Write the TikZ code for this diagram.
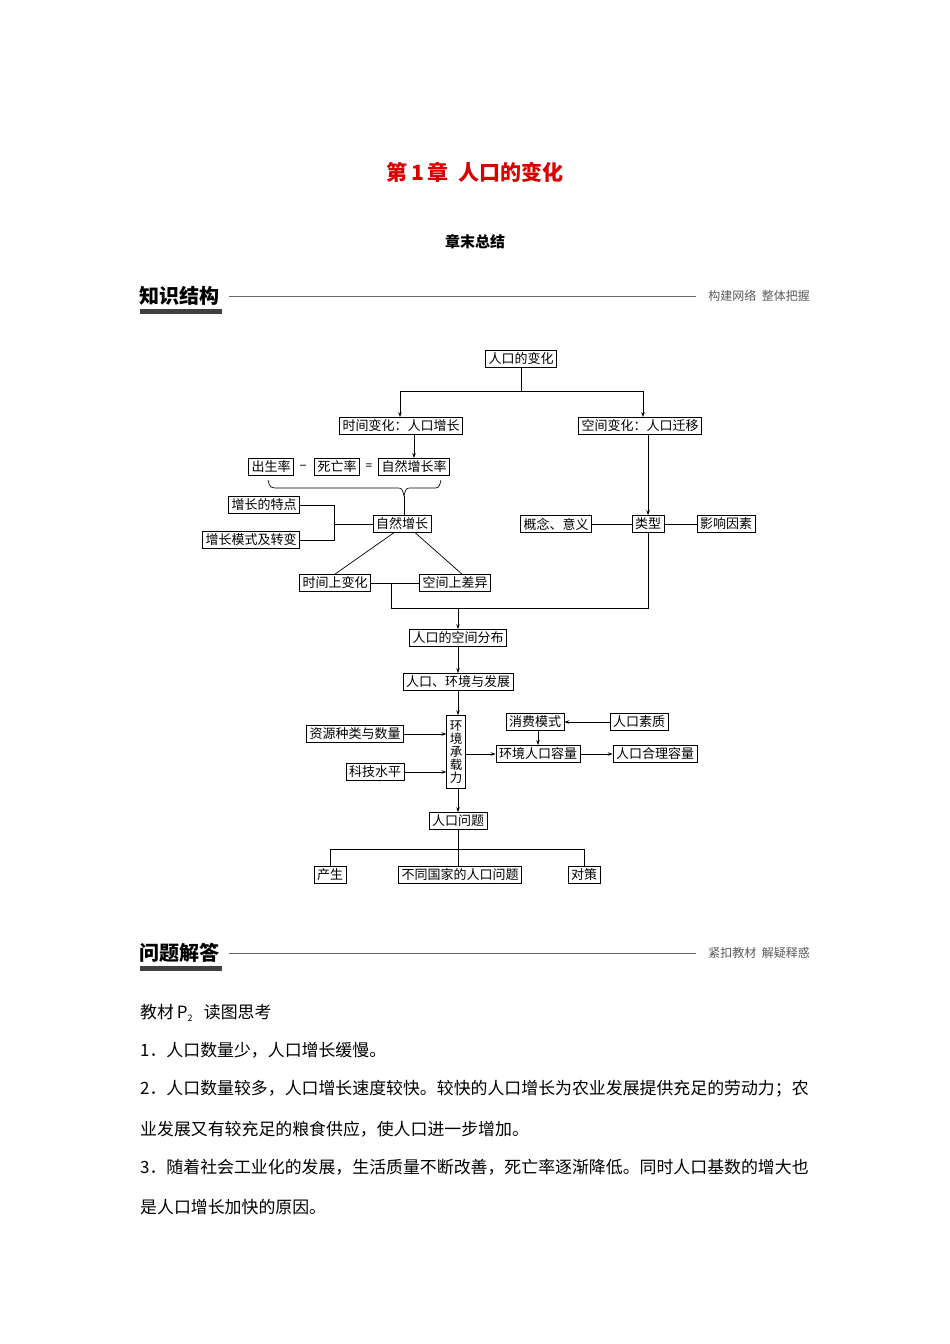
\documentclass[tikz,border=0pt]{standalone}
\usepackage{fontspec}
\setmainfont{Liberation Serif}
\newfontfamily\cjk{Noto Sans CJK SC}
\usetikzlibrary{arrows.meta}
\begin{document}
\begin{tikzpicture}[x=1pt,y=-1pt,
  bx/.style={draw,line width=0.7pt,inner xsep=3pt,inner ysep=2.5pt,font=\cjk\fontsize{13}{14}\selectfont},
  ln/.style={line width=0.7pt},
  ar/.style={line width=0.7pt,-{Stealth[length=5pt,width=3.5pt]}},
  body/.style={anchor=west,font=\cjk\fontsize{16.9}{18}\selectfont},
  sect/.style={font=\cjk\bfseries\fontsize{20}{22}\selectfont,anchor=west},
  side/.style={font=\cjk\fontsize{12}{13}\selectfont,text=black!65,anchor=east}]
\useasboundingbox (0,0) rectangle (950,1344);
\node[font=\cjk\bfseries\fontsize{21}{23}\selectfont,text=red!85!black] (title) at (475,172) {第\,1\,章\ \ 人口的变化};
\node[font=\cjk\bfseries\fontsize{15}{16}\selectfont] (sub) at (475,242) {章末总结};
% section 1
\node[sect,inner sep=0] (s1) at (139,296) {知识结构};
\fill[black!75] (140,309) rectangle (222,314);
\node[side,inner sep=0] (s1r) at (810,296) {构建网络\ \ 整体把握};
\draw[black!60,line width=0.5pt] (229,296) -- (696,296);
% diagram
\node[bx] (top) at (521,359) {人口的变化};
\node[bx] (tv) at (401,426) {时间变化：人口增长};
\node[bx] (sv) at (640,426) {空间变化：人口迁移};
\coordinate (jl) at (400,391);
\coordinate (jr) at (643,391);
\draw[ln] (top.south) -- (top.south |- jl);
\draw[ln] (jl) -- (jr);
\draw[ar] (jl) -- (jl |- tv.north);
\draw[ar] (jr) -- (jr |- sv.north);
\node[bx] (csl) at (271,467) {出生率};
\node[font=\bfseries\large] (minus) at (303,467) {–};
\node[bx] (swl) at (337,467) {死亡率};
\node[font=\bfseries\large] (eq) at (369,467) {=};
\node[bx] (zrl) at (414,467) {自然增长率};
\draw[ar] (zrl.north |- tv.south) -- (zrl.north);
\coordinate (bt0) at (404,496);
\draw[ln] (268,480) .. controls (270,488) .. (280,488) -- (396,488) .. controls (402,488) .. (bt0)
  .. controls (406,488) .. (412,488) -- (432,488) .. controls (439,488) .. (441,480);
\node[bx] (zr) at (402,524) {自然增长};
\draw[ln] (bt0) -- (bt0 |- zr.north);
\node[bx] (td) at (264,505) {增长的特点};
\node[bx] (ms) at (251,540) {增长模式及转变};
\coordinate (bk) at (334,524);
\draw[ln] (td.east) -- (bk |- td.east) -- (bk |- ms.east) -- (ms.east);
\draw[ln] (bk) -- (zr.west);
\node[bx] (sj) at (335,583) {时间上变化};
\node[bx] (kj) at (455,583) {空间上差异};
\draw[ln] (zr.south west) ++(21,0) -- (sj.north);
\draw[ln] (zr.south east) ++(-16,0) -- ([xshift=7pt]kj.north);
\draw[ln] (sj.east) -- (kj.west);
\node[bx] (gn) at (556,524) {概念、意义};
\node[bx] (lx) at (648,524) {类型};
\node[bx] (yx) at (726,524) {影响因素};
\draw[ar] (lx.north |- sv.south) -- (lx.north);
\draw[ln] (gn.east) -- (lx.west);
\draw[ln] (lx.east) -- (yx.west);
\node[bx] (fb) at (458,638) {人口的空间分布};
\coordinate (m1) at (391,583);
\coordinate (m2) at (391,608);
\draw[ln] (m1) -- (m2) -- (m2 -| lx.south) -- (lx.south);
\draw[ar] (m2 -| fb.north) -- (fb.north);
\node[bx] (hj) at (458,682) {人口、环境与发展};
\draw[ar] (fb.south) -- (hj.north);
\node[bx,inner xsep=3pt,align=center,font=\cjk\fontsize{12.5}{13}\selectfont,minimum height=73pt] (cz) at (456,752) {环\\境\\承\\载\\力};
\draw[ar] (hj.south) -- (hj.south |- cz.north);
\node[bx] (zy) at (355,734) {资源种类与数量};
\node[bx] (kx) at (375,772) {科技水平};
\draw[ar] (zy.east) -- (zy.east -| cz.west);
\draw[ar] (kx.east) -- (kx.east -| cz.west);
\node[bx] (xf) at (535,722) {消费模式};
\node[bx] (sz) at (639,722) {人口素质};
\draw[ar] (sz.west) -- (xf.east);
\node[bx] (rk) at (538,754) {环境人口容量};
\node[bx] (hl) at (655,754) {人口合理容量};
\draw[ar] (rk.north |- xf.south) -- (rk.north);
\draw[ar] (cz.east |- rk.west) -- (rk.west);
\draw[ar] (rk.east) -- (hl.west);
\node[bx] (wt) at (458,821) {人口问题};
\draw[ar] (wt.north |- cz.south) -- (wt.north);
\node[bx] (cs) at (330,875) {产生};
\node[bx] (bt) at (460,875) {不同国家的人口问题};
\node[bx] (dc) at (584,875) {对策};
\coordinate (h) at (458,849);
\draw[ln] (wt.south) -- (wt.south |- bt.north);
\draw[ln] (cs.north) -- (cs.north |- h) -- (dc.north |- h) -- (dc.north);
% section 2
\node[sect,inner sep=0] (s2) at (139,953) {问题解答};
\fill[black!75] (140,966) rectangle (222,971);
\node[side,inner sep=0] (s2r) at (810,953) {紧扣教材\ \ 解疑释惑};
\draw[black!60,line width=0.5pt] (229,953) -- (696,953);
\node[body,inner sep=0] (p0) at (140,1013) {教材\,P\raisebox{-0.3ex}{\fontsize{9}{10}\selectfont 2}\ \ \ 读图思考};
\node[body,inner sep=0] (p1) at (140,1050) {1．人口数量少，人口增长缓慢。};
\node[body,inner sep=0] (p2) at (140,1089) {2．人口数量较多，人口增长速度较快。较快的人口增长为农业发展提供充足的劳动力；农};
\node[body,inner sep=0] (p3) at (140,1129) {业发展又有较充足的粮食供应，使人口进一步增加。};
\node[body,inner sep=0] (p4) at (140,1167) {3．随着社会工业化的发展，生活质量不断改善，死亡率逐渐降低。同时人口基数的增大也};
\node[body,inner sep=0] (p5) at (140,1207) {是人口增长加快的原因。};
\end{tikzpicture}
\end{document}
